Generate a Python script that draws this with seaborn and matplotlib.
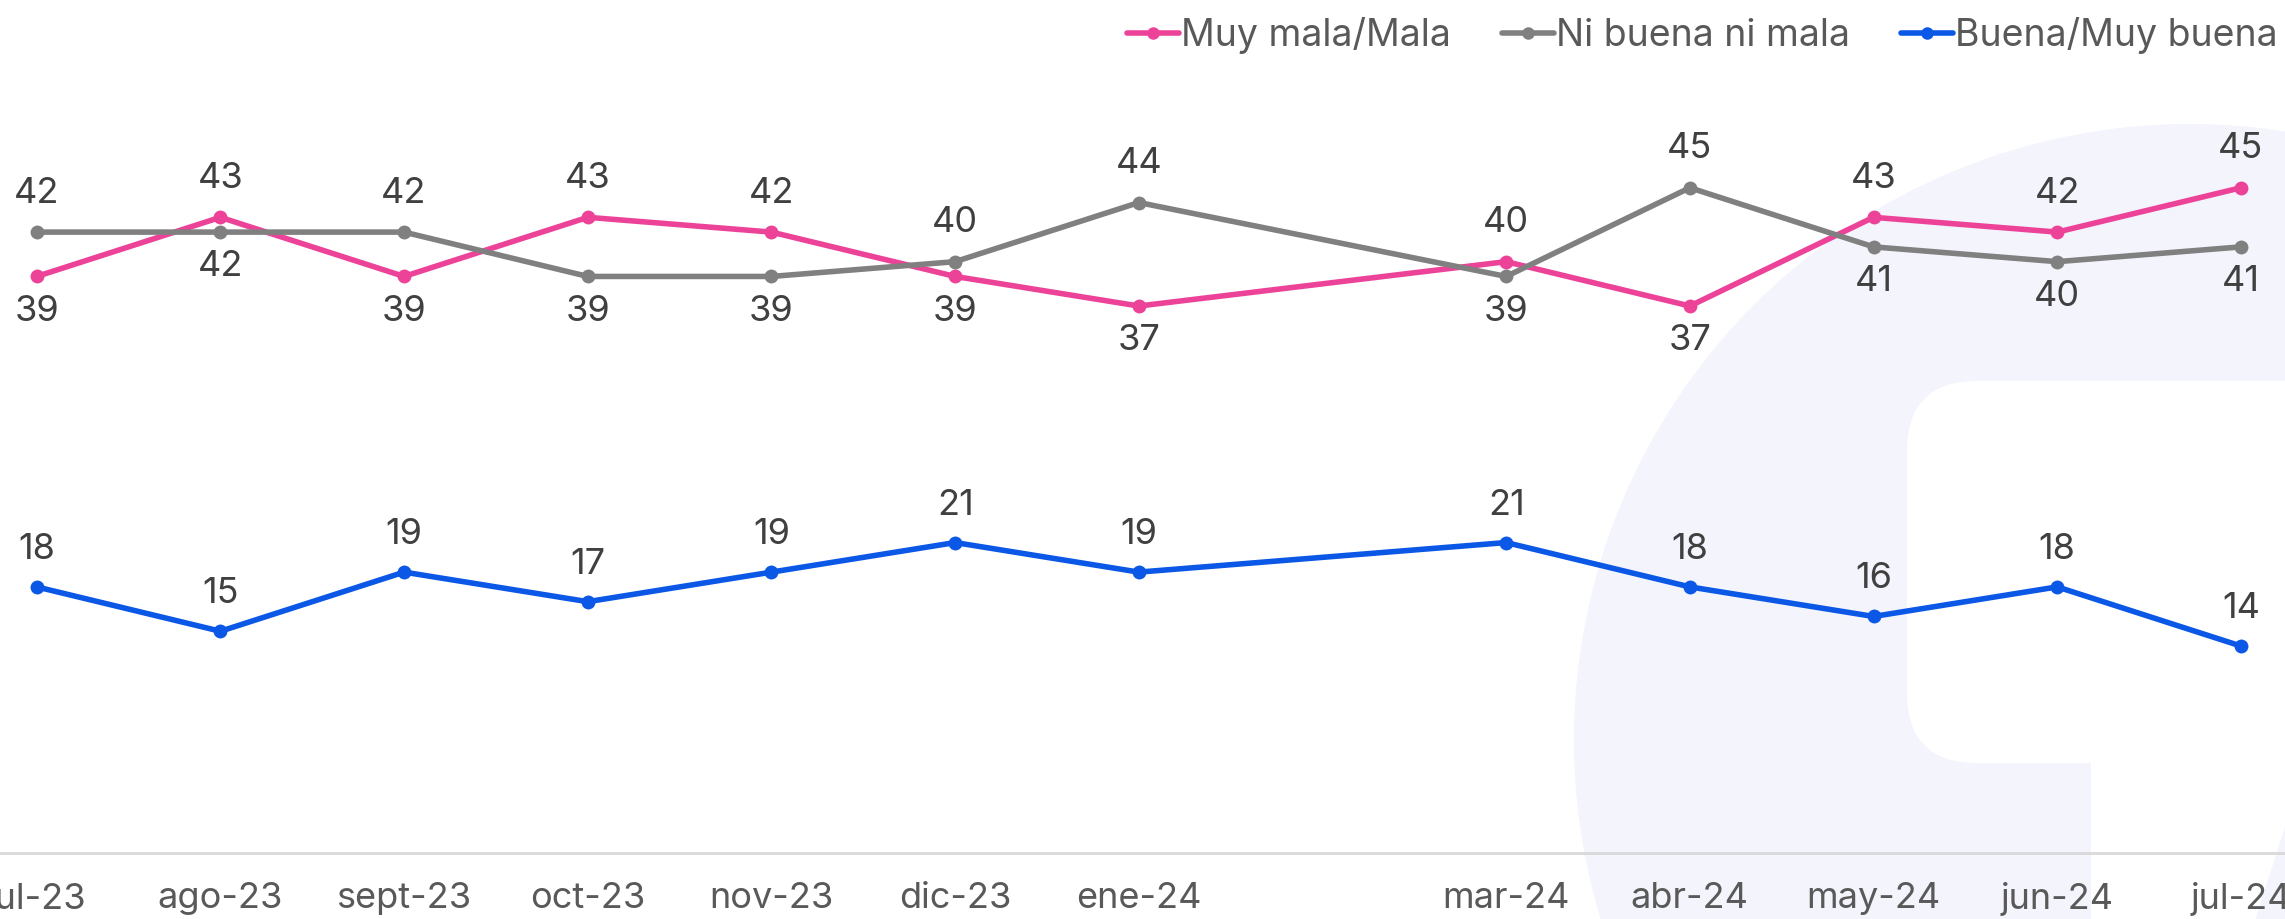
import pandas as pd
import matplotlib.pyplot as plt
import seaborn as sns
from matplotlib.patches import Circle, FancyBboxPatch, Polygon
from matplotlib.lines import Line2D

# months on the axis (feb-24 has no survey, its label is left blank)
months = ['jul-23', 'ago-23', 'sept-23', 'oct-23', 'nov-23', 'dic-23', 'ene-24',
          'feb-24', 'mar-24', 'abr-24', 'may-24', 'jun-24', 'jul-24']
tick_labels = ['jul-23', 'ago-23', 'sept-23', 'oct-23', 'nov-23', 'dic-23', 'ene-24',
               '', 'mar-24', 'abr-24', 'may-24', 'jun-24', 'jul-24']
surveyed = [m for m in months if m != 'feb-24']

mala = [39, 43, 39, 43, 42, 39, 37, 40, 37, 43, 42, 45]
ni_buena = [42, 42, 42, 39, 39, 40, 44, 39, 45, 41, 40, 41]
buena = [18, 15, 19, 17, 19, 21, 19, 21, 18, 16, 18, 14]

series = ['Muy mala/Mala', 'Ni buena ni mala', 'Buena/Muy buena']
colors = ['#EC4399', '#808080', '#0B57E6']
palette = dict(zip(series, colors))

rows = []
for name, vals in zip(series, [mala, ni_buena, buena]):
    for m, v in zip(surveyed, vals):
        rows.append({'serie': name, 'mes': m, 'pos': months.index(m), 'valor': v})
df = pd.DataFrame(rows)

sns.set_style('white')
plt.rcParams['font.family'] = ['Inter', 'DejaVu Sans']

W, H = 2285, 919
fig = plt.figure(figsize=(W / 100, H / 100), dpi=100)

# faint logo watermark in the background
bg = fig.add_axes([0, 0, 1, 1], zorder=0)
bg.set_xlim(0, W)
bg.set_ylim(H, 0)
bg.axis('off')
lav = '#F3F4FC'
bg.add_patch(Circle((2190, 740), 616, color=lav, lw=0))
bg.add_patch(FancyBboxPatch((1907, 381), 600, 382, boxstyle='round,pad=0,rounding_size=70',
                            color='white', lw=0))
bg.add_patch(Polygon([(2091, 700), (2091, 930), (2252, 930), (2300, 780), (2300, 700)],
                     closed=True, color='white', lw=0))

ax = fig.add_axes([0, (H - 853) / H, 1, 853 / H], zorder=1)
ax.set_facecolor('none')

sns.lineplot(data=df, x='pos', y='valor', hue='serie', palette=palette, hue_order=series,
             marker='o', markersize=10, markeredgewidth=0, linewidth=4,
             legend=False, sort=False, ax=ax)

ax.set_xlim(-0.2, 12.24)
ax.set_ylim(0, 57.7)

# data labels
lab_color = '#404040'
for i, m in enumerate(surveyed):
    x = months.index(m)
    a, b = mala[i], ni_buena[i]
    for v, other in [(a, b), (b, a)]:
        dy = 28 if v > other else -25
        ax.annotate(str(v), (x, v), xytext=(0, dy), textcoords='offset points',
                    ha='center', va='center', fontsize=26, color=lab_color)
    ax.annotate(str(buena[i]), (x, buena[i]), xytext=(0, 27), textcoords='offset points',
                ha='center', va='center', fontsize=26, color=lab_color)

# axes styling
for s in ['top', 'right', 'left']:
    ax.spines[s].set_visible(False)
ax.spines['bottom'].set_color('#D9D9D9')
ax.spines['bottom'].set_linewidth(2)
ax.set_yticks([])
ax.set_xticks(range(len(months)))
ax.set_xticklabels(tick_labels, fontsize=26, color='#595959')
ax.set_xticks([k + 0.5 for k in range(len(months) - 1)], minor=True)
ax.tick_params(axis='x', which='major', length=0, pad=21)
ax.tick_params(axis='x', which='minor', length=9, width=1.5, color='#D9D9D9', direction='out')
ax.set_xlabel('')
ax.set_ylabel('')

handles = [Line2D([0], [0], color=c, marker='o', markersize=9, markeredgewidth=0, linewidth=4)
           for c in colors]
leg = fig.legend(handles, series, loc='upper right', bbox_to_anchor=(1.0, 0.99), ncol=3,
                 frameon=False, fontsize=27, handlelength=1.4, handletextpad=0.05,
                 columnspacing=1.35, borderaxespad=0.0, borderpad=0.2)
for t in leg.get_texts():
    t.set_color('#595959')

fig.savefig('out.png', dpi=100)
